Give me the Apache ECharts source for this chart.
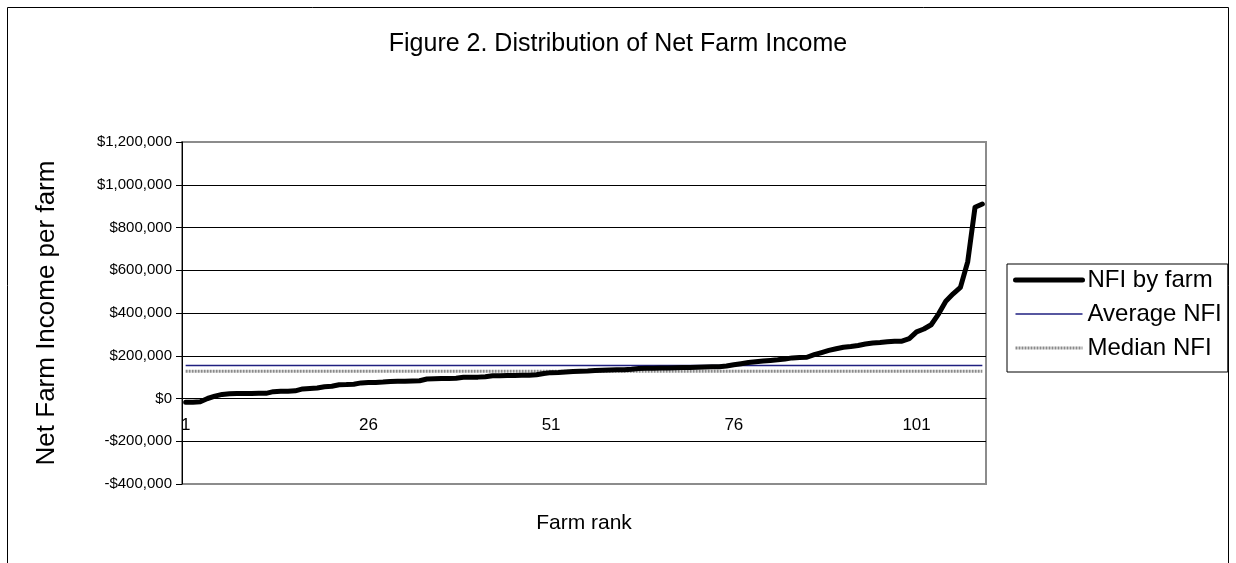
<!DOCTYPE html>
<html>
<head>
<meta charset="utf-8">
<script src="https://cdn.jsdelivr.net/npm/echarts@6/dist/echarts.min.js"></script>
<style>
  html, body { margin: 0; padding: 0; background: #fff; }
  #chart { width: 1236px; height: 563px; }
</style>
</head>
<body>
<div id="chart"></div>
<script>
// net farm income per farm, sorted by rank
const nfiByFarm = [
  -17000, -17000, -15000, 0, 11000, 19000,
  22000, 23000, 23000, 23000, 24000, 24000,
  32000, 34000, 34000, 36000,
  45000, 47000, 49000,
  55000, 57000,
  64000, 65000, 67000,
  73000, 75000, 75000, 77000,
  80000, 81000, 81000, 82000, 83000,
  91000, 92000, 93000, 94000, 95000,
  99000, 100000, 100000, 102000,
  106000, 107000, 108000, 108000, 109000, 109000, 111000,
  117000,
  121000, 122000, 124000,
  126000, 128000, 129000, 131000, 132000, 133000, 134000, 135000, 137000,
  140000, 141000, 142000, 143000, 143000, 144000, 145000, 145000, 146000, 147000, 148000, 149000,
  152000, 158000, 163000, 168000, 172000,
  175000, 178000, 181000, 185000, 190000, 192000, 193000,
  205000, 215000, 225000, 233000, 240000, 243000, 248000,
  255000, 260000, 262000, 265000, 268000, 268000,
  280000, 312000, 325000,
  345000, 395000, 455000, 490000, 520000, 640000, 895000, 910000
];
const averageNFI = 154000;
const medianNFI = 128000;
const farmRanks = nfiByFarm.map((_, i) => String(i + 1));
const yTicks = { min: -400000, max: 1200000, step: 200000 };

const font = 'Arial, "Liberation Sans", sans-serif';
const first = farmRanks[0], last = farmRanks[farmRanks.length - 1];

const gridBox = { left: 182, top: 142, width: 804, height: 342 };
// onZero doesn't kick in here, so lift the category axis up to the $0 line by hand
const zeroOffset = -gridBox.height * (0 - yTicks.min) / (yTicks.max - yTicks.min);

function money(v) {
  const s = String(Math.abs(v)).replace(/\B(?=(\d{3})+(?!\d))/g, ',');
  return (v < 0 ? '-$' : '$') + s;
}

const chart = echarts.init(document.getElementById('chart'), null, { renderer: 'canvas' });

const option = {
  backgroundColor: '#fff',
  animation: false,
  textStyle: { fontFamily: font },
  title: {
    text: 'Figure 2. Distribution of Net Farm Income',
    left: 'center',
    top: 27,
    textStyle: { fontFamily: font, fontSize: 25, fontWeight: 'normal', color: '#000' }
  },
  graphic: [{
    type: 'rect',
    shape: { x: 7.5, y: 7.5, width: 1221, height: 600 },
    style: { fill: null, stroke: '#000', lineWidth: 1 },
    silent: true
  }],
  grid: Object.assign({}, gridBox, {
    show: true, borderColor: '#8c8c8c', borderWidth: 2,
    containLabel: false,
    outerBoundsMode: 'none'
  }),
  legend: {
    orient: 'vertical',
    left: 1007, top: 264,
    padding: [4, 6, 12, 6],
    itemGap: 10,
    itemWidth: 67,
    itemHeight: 20,
    borderColor: '#000',
    borderWidth: 1,
    backgroundColor: '#fff',
    selectedMode: false,
    itemStyle: { opacity: 0 },
    lineStyle: { width: 'inherit' },
    textStyle: { fontFamily: font, fontSize: 24, color: '#000' },
    data: ['NFI by farm', 'Average NFI', 'Median NFI']
  },
  xAxis: {
    type: 'category',
    data: farmRanks,
    boundaryGap: true,
    position: 'bottom',
    offset: zeroOffset,
    name: 'Farm rank',
    nameLocation: 'middle',
    nameGap: 114,
    nameTextStyle: { fontFamily: font, fontSize: 21, color: '#000' },
    axisLine: { onZero: false, lineStyle: { color: '#000', width: 1 } },
    axisTick: { show: false },
    axisLabel: { interval: 24, margin: 18, fontFamily: font, fontSize: 17, color: '#000' },
    splitLine: { show: false }
  },
  yAxis: {
    type: 'value',
    min: yTicks.min,
    max: yTicks.max,
    interval: yTicks.step,
    name: 'Net Farm Income per farm',
    nameLocation: 'middle',
    nameRotate: 90,
    nameGap: 122,
    nameTextStyle: { fontFamily: font, fontSize: 26, color: '#000' },
    axisLine: { show: true, lineStyle: { color: '#000', width: 1 } },
    axisTick: { show: true, inside: false, length: 6, lineStyle: { color: '#000' } },
    axisLabel: { margin: 10, fontFamily: font, fontSize: 15, color: '#000', formatter: money },
    splitLine: {
      show: true,
      lineStyle: {
        color: ['#8c8c8c', '#000', '#000', '#000', '#000', '#000', '#000', '#000', '#8c8c8c'],
        width: 1
      }
    }
  },
  series: [
    {
      name: 'NFI by farm',
      type: 'line',
      data: nfiByFarm,
      symbol: 'none',
      color: '#000',
      lineStyle: { color: '#000', width: 5, join: 'round', cap: 'round' },
      z: 5
    },
    {
      name: 'Average NFI',
      type: 'line',
      data: [[first, averageNFI], [last, averageNFI]],
      symbol: 'none',
      color: '#1f1f80',
      lineStyle: { color: '#1f1f80', width: 1.5 },
      z: 3
    },
    {
      name: 'Median NFI',
      type: 'line',
      data: [[first, medianNFI], [last, medianNFI]],
      symbol: 'none',
      color: '#8a8a8a',
      lineStyle: { color: '#8a8a8a', width: 3, type: [2, 1] },
      z: 3
    }
  ]
};

chart.setOption(option);
</script>
</body>
</html>
